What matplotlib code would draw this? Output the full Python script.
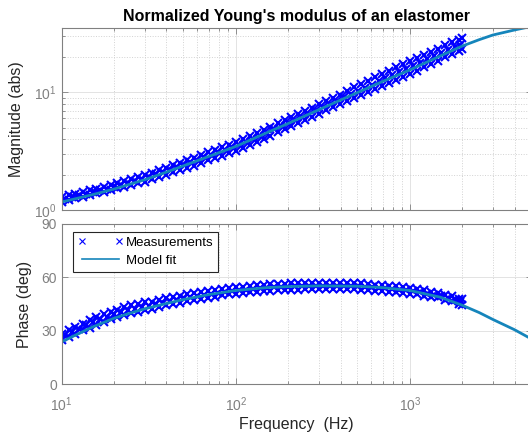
import matplotlib
matplotlib.use("Agg")
import matplotlib.pyplot as plt
from matplotlib.ticker import LogLocator, NullFormatter, FixedLocator
from matplotlib.lines import Line2D

plt.rcParams['font.family'] = ['Liberation Sans', 'DejaVu Sans']
plt.rcParams['mathtext.fontset'] = 'custom'
plt.rcParams['mathtext.rm'] = 'Liberation Sans'
plt.rcParams['mathtext.it'] = 'Liberation Sans:italic'
plt.rcParams['mathtext.bf'] = 'Liberation Sans:bold'

# ---------------- data ----------------
# upper and lower edge of the measurement scatter band
meas_freq = [10, 11, 12, 13.2, 14.5, 15.8, 17.4, 19.1, 20.9, 22.9,
             25.1, 27.5, 30.2, 33.1, 36.3, 39.8, 43.7, 47.9, 52.5, 57.5,
             63.1, 69.2, 75.9, 83.2, 91.2, 100, 110, 120, 132, 145,
             158, 174, 191, 209, 229, 251, 275, 302, 331, 363,
             398, 437, 479, 525, 575, 631, 692, 759, 832, 912,
             1000, 1096, 1202, 1318, 1445, 1585, 1738, 1905, 2000]

meas_mag_hi = [1.290, 1.332, 1.376, 1.421, 1.467, 1.519, 1.576, 1.631, 1.696, 1.754,
               1.828, 1.905, 1.982, 2.070, 2.178, 2.286, 2.404, 2.529, 2.661, 2.793,
               2.938, 3.090, 3.251, 3.420, 3.597, 3.784, 4.018, 4.266, 4.529, 4.808,
               5.105, 5.470, 5.808, 6.166, 6.546, 6.966, 7.413, 7.962, 8.453, 8.995,
               9.550, 10.33, 10.99, 11.67, 12.39, 13.46, 14.29, 15.14, 16.44, 17.42,
               18.45, 19.63, 20.94, 22.08, 23.50, 25.00, 26.55, 27.99, 28.91]
meas_mag_lo = [1.180, 1.219, 1.259, 1.300, 1.343, 1.390, 1.429, 1.479, 1.538, 1.567,
               1.633, 1.702, 1.746, 1.824, 1.919, 1.982, 2.084, 2.193, 2.275, 2.388,
               2.512, 2.642, 2.754, 2.897, 3.048, 3.177, 3.373, 3.581, 3.802, 4.036,
               4.285, 4.571, 4.853, 5.152, 5.470, 5.821, 6.194, 6.607, 7.015, 7.464,
               7.925, 8.414, 8.954, 9.506, 10.09, 10.72, 11.38, 12.05, 12.76, 13.52,
               14.32, 15.24, 16.26, 17.46, 18.58, 19.77, 20.99, 22.57, 23.31]
meas_phase_hi = [28.2, 30.1, 32.0, 33.8, 35.8, 37.5, 39.1, 40.7, 41.9, 43.1,
                 44.4, 44.8, 46.0, 46.3, 47.3, 48.3, 49.2, 49.6, 50.4, 51.2,
                 51.9, 52.3, 52.9, 53.5, 54.1, 54.4, 54.8, 55.1, 55.5, 55.9,
                 56.1, 56.3, 56.5, 56.6, 56.7, 56.8, 56.9, 57.0, 57.0, 56.9,
                 56.9, 56.9, 56.8, 56.7, 56.2, 55.9, 55.7, 55.3, 54.9, 54.5,
                 54.1, 53.5, 52.7, 51.8, 51.3, 50.1, 49.4, 47.9, 47.7]
meas_phase_lo = [24.5, 26.4, 28.3, 30.1, 31.7, 33.4, 35.0, 36.6, 37.6, 38.8,
                 40.1, 40.6, 41.8, 42.3, 43.3, 44.3, 45.2, 45.7, 46.5, 47.3,
                 48.0, 48.6, 49.2, 49.8, 50.4, 50.8, 51.2, 51.5, 51.9, 52.3,
                 52.5, 52.7, 52.9, 53.0, 53.1, 53.2, 53.3, 53.4, 53.4, 53.3,
                 53.3, 53.3, 53.2, 53.1, 52.8, 52.5, 52.3, 51.9, 51.5, 51.1,
                 50.7, 50.5, 49.7, 48.8, 48.7, 47.5, 46.5, 45.0, 44.6]

# middle of the measurement band (frequencies in between)
meas_freq_mid = [10.49, 11.49, 12.59, 13.83, 15.14, 16.58, 18.23, 19.98, 21.88, 23.97,
                 26.27, 28.82, 31.62, 34.66, 38.01, 41.70, 45.75, 50.15, 54.94, 60.23,
                 66.08, 72.47, 79.47, 87.11, 95.50, 104.9, 114.9, 125.9, 138.3, 151.4,
                 165.8, 182.3, 199.8, 218.8, 239.7, 262.7, 288.2, 316.2, 346.6, 380.1,
                 417.0, 457.5, 501.5, 549.4, 602.3, 660.8, 724.7, 794.7, 871.1, 955.0,
                 1047, 1148, 1259, 1380, 1513, 1660, 1820, 1952]
meas_mag_mid = [1.248, 1.289, 1.331, 1.374, 1.421, 1.469, 1.519, 1.576, 1.634, 1.695,
                1.767, 1.837, 1.913, 2.005, 2.102, 2.204, 2.318, 2.432, 2.548, 2.678,
                2.817, 2.947, 3.084, 3.245, 3.397, 3.574, 3.795, 4.029, 4.278, 4.542,
                4.845, 5.167, 5.485, 5.824, 6.191, 6.588, 7.039, 7.514, 7.989, 8.490,
                9.060, 9.677, 10.28, 10.92, 11.65, 12.42, 13.17, 14.02, 14.92, 15.81,
                16.78, 17.88, 19.04, 20.26, 21.56, 22.92, 24.25, 25.30]
meas_phase_mid = [27.4, 29.35, 31.2, 32.95, 34.65, 36.3, 37.9, 39.2, 40.3, 41.55,
                  42.4, 43.2, 44.05, 44.8, 45.8, 46.75, 47.45, 48.1, 48.9, 49.65,
                  50.25, 50.8, 51.4, 52.0, 52.45, 52.8, 53.15, 53.5, 53.9, 54.2,
                  54.4, 54.6, 54.75, 54.85, 54.95, 55.05, 55.15, 55.2, 55.15, 55.1,
                  55.1, 55.05, 54.95, 54.7, 54.35, 54.1, 53.8, 53.4, 53.0, 52.6,
                  52.2, 51.6, 50.75, 50.1, 49.3, 48.25, 47.05, 46.15]

model_freq = [10, 12, 15, 20, 25, 30, 40, 50, 70, 100, 150, 200, 300, 500,
              700, 1000, 1500, 2000, 2500, 3000, 4000, 5000]
model_mag = [1.17, 1.247, 1.349, 1.507, 1.666, 1.807, 2.099, 2.371, 2.851, 3.467,
             4.519, 5.433, 7.112, 9.954, 12.39, 15.49, 20.42, 24.72, 27.99, 30.69,
             33.88, 36.31]
model_phase = [23.7, 27.5, 32.0, 37.0, 40.0, 42.3, 45.3, 47.5, 50.3, 52.6,
               54.2, 54.8, 55.2, 55.0, 54.2, 52.6, 48.8, 44.3, 40.2, 36.3,
               30.5, 25.3]

title = "Normalized Young's modulus of an elastomer"
labels = ["Measurements", "Model fit"]

# ---------------- styling ----------------
W, H = 528, 437
fig = plt.figure(figsize=(W / 100, H / 100), dpi=100)

def px_axes(x0, x1, ytop, ybot):
    return fig.add_axes([x0 / W, 1 - ybot / H, (x1 - x0) / W, (ybot - ytop) / H])

ax1 = px_axes(61.7, 531.5, 28, 210)
ax2 = px_axes(61.7, 531.5, 224, 384)

meas_color = '#0000ff'
model_color = '#1585bb'
grey = '#808080'
mk = dict(marker='x', linestyle='none', color=meas_color, markersize=5.6, markeredgewidth=1.5)

ax1.plot(meas_freq, meas_mag_hi, **mk)
ax1.plot(meas_freq_mid, meas_mag_mid, **mk)
ax1.plot(meas_freq, meas_mag_lo, **mk)
ax2.plot(meas_freq, meas_phase_hi, **mk)
ax2.plot(meas_freq_mid, meas_phase_mid, **mk)
ax2.plot(meas_freq, meas_phase_lo, **mk)

ax1.plot(model_freq, model_mag, color=model_color, lw=2.0)
ax2.plot(model_freq, model_phase, color=model_color, lw=2.0)

for ax in (ax1, ax2):
    ax.set_xscale('log')
    ax.set_xlim(10, 5000)
    ax.xaxis.set_major_locator(LogLocator(base=10, numticks=10))
    ax.xaxis.set_minor_locator(LogLocator(base=10, subs=range(2, 10), numticks=20))
    ax.xaxis.set_minor_formatter(NullFormatter())
    ax.tick_params(which='both', direction='in', top=True, right=True,
                   colors=grey, labelsize=10, width=0.6)
    ax.tick_params(which='major', length=4)
    ax.tick_params(which='minor', length=2.5)
    ax.tick_params(axis='x', which='major', pad=8.5)
    for s in ax.spines.values():
        s.set_color(grey)
        s.set_linewidth(0.8)
    ax.grid(True, which='major', color='#e3e3e3', lw=0.7, ls='-')
    ax.set_axisbelow(True)

ax1.set_yscale('log')
ax1.set_ylim(1, 35.2)
ax1.yaxis.set_minor_locator(LogLocator(base=10, subs=range(2, 10), numticks=20))
ax1.yaxis.set_minor_formatter(NullFormatter())
ax1.grid(True, which='minor', color='#d2d2d2', lw=0.7, ls=':')
ax1.tick_params(labelbottom=False)

ax2.set_ylim(0, 90)
ax2.yaxis.set_major_locator(FixedLocator([0, 30, 60, 90]))
ax2.xaxis.grid(True, which='minor', color='#d2d2d2', lw=0.7, ls=':')

ax1.set_title(title, fontsize=11.5, fontweight='bold', color='black', pad=5)
ax1.set_ylabel('Magnitude (abs)', fontsize=11.5, color='#262626', va='center')
ax1.yaxis.set_label_coords((17 - 61.7) / 469.8, 0.5)
ax2.set_ylabel('Phase (deg)', fontsize=11.5, color='#262626', va='center')
ax2.yaxis.set_label_coords((25 - 61.7) / 469.8, 0.5)
ax2.set_xlabel('Frequency  (Hz)', fontsize=11.5, color='#262626', va='center')
ax2.xaxis.set_label_coords(0.5, -(424 - 384) / 160)

h_meas = Line2D([], [], marker='x', linestyle='none', color=meas_color,
                markersize=5, markeredgewidth=0.8)
h_model = Line2D([], [], color=model_color, lw=1.2)
leg = ax2.legend([h_meas, h_model], labels, loc='upper left',
                 bbox_to_anchor=((73 - 61.7) / 469.8, 1 - (232 - 224) / 160),
                 borderaxespad=0, numpoints=2, fontsize=9.5, handlelength=3.4,
                 handletextpad=0.25, borderpad=0.35, labelspacing=0.45,
                 fancybox=False, framealpha=1, edgecolor='#262626')
leg.get_frame().set_linewidth(0.8)

fig.savefig('out.png', dpi=100)
